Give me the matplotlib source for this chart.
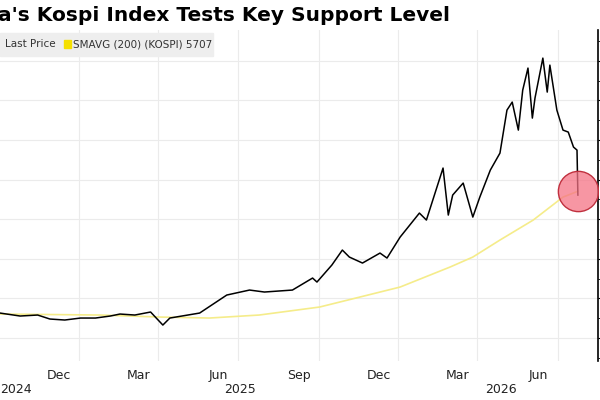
import matplotlib
matplotlib.use("Agg")
import matplotlib.pyplot as plt
import numpy as np
import pandas as pd

# Kospi last price
price_dates = ["2024-09-02", "2024-09-25", "2024-10-15", "2024-10-29", "2024-11-15",
               "2024-12-03", "2024-12-20", "2025-01-06", "2025-01-17", "2025-02-03",
               "2025-02-21", "2025-03-07", "2025-03-15", "2025-04-18", "2025-05-19",
               "2025-06-14", "2025-07-01", "2025-08-02", "2025-08-25", "2025-08-30",
               "2025-09-16", "2025-09-28", "2025-10-06", "2025-10-21", "2025-11-10",
               "2025-11-18", "2025-12-03", "2025-12-25", "2026-01-02", "2026-01-21",
               "2026-01-27", "2026-02-01", "2026-02-13", "2026-02-24", "2026-03-04",
               "2026-03-16", "2026-03-27", "2026-04-04", "2026-04-10", "2026-04-17",
               "2026-04-22", "2026-04-28", "2026-05-03", "2026-05-06", "2026-05-15",
               "2026-05-20", "2026-05-23", "2026-05-31", "2026-06-07", "2026-06-13",
               "2026-06-19", "2026-06-23", "2026-06-24"]
price_values = [2631, 2556, 2581, 2480, 2455, 2505, 2505, 2556, 2606, 2581,
                2657, 2328, 2505, 2631, 3086, 3212, 3162, 3212, 3515, 3414,
                3843, 4222, 4045, 3894, 4146, 4020, 4550, 5156, 4980, 6293,
                5106, 5611, 5914, 5055, 5560, 6242, 6671, 7757, 7959, 7252,
                8262, 8818, 7555, 8060, 9070, 8212, 8893, 7757, 7252, 7202,
                6823, 6747, 5611]

# 200-day simple moving average
sma_dates = ["2024-09-02", "2024-12-25", "2025-03-04", "2025-04-29", "2025-06-25",
             "2025-09-02", "2025-10-18", "2025-12-03", "2026-01-29", "2026-02-24",
             "2026-03-27", "2026-05-04", "2026-06-07", "2026-06-24"]
sma_values = [2606, 2581, 2530, 2505, 2581, 2783, 3035, 3288, 3793, 4045,
              4475, 4980, 5560, 5707]

month_ticks = ["2024-12-01", "2025-03-01", "2025-06-01", "2025-09-01",
               "2025-12-01", "2026-03-01", "2026-06-01"]
month_labels = ["Dec", "Mar", "Jun", "Sep", "Dec", "Mar", "Jun"]

pd_price = pd.to_datetime(price_dates)
pd_sma = pd.to_datetime(sma_dates)
pd_ticks = pd.to_datetime(month_ticks)

fig = plt.figure(figsize=(6, 4), dpi=100)
ax = fig.add_axes([0.0, 0.0975, 0.9967, 0.8275])

ax.plot(pd_sma, sma_values, color="#f5ec8a", lw=1.2, zorder=2)
ax.plot(pd_price, price_values, color="black", lw=1.1, zorder=3)
ax.plot(pd_price[-1:], sma_values[-1:], "o", ms=29, mfc=(0.96, 0.45, 0.52, 0.75),
        mec="#c0303e", mew=1.0, ls="none", zorder=4)

ax.set_xlim(pd.Timestamp("2024-09-02"), pd.Timestamp("2026-07-17"))
ax.set_ylim(1420, 9780)

ax.set_xticks(pd_ticks)
ax.set_xticklabels([])
ax.tick_params(axis="x", length=0)
ax.grid(True, axis="both", color="#ebebeb", lw=0.8)
ax.set_yticks(np.arange(2000, 9001, 1000))
ax.set_yticks(np.arange(1500, 9501, 1000), minor=True)
ax.yaxis.tick_right()
ax.tick_params(axis="y", which="major", direction="out", length=4, labelright=False)
ax.tick_params(axis="y", which="minor", direction="out", length=2)
for s in ["top", "left", "bottom"]:
    ax.spines[s].set_visible(False)
ax.spines["right"].set_linewidth(1.2)

for d, lab in zip(pd_ticks, month_labels):
    ax.annotate(lab, xy=(d, 0), xycoords=("data", "axes fraction"),
                xytext=(-14, -6), textcoords="offset points",
                ha="center", va="top", fontsize=9, color="#222222")

fig.text(0.0, 0.018, "2024", fontsize=9, ha="left", color="#222222")
fig.text(0.40, 0.018, "2025", fontsize=9, ha="center", color="#222222")
fig.text(0.835, 0.018, "2026", fontsize=9, ha="center", color="#222222")

fig.text(-0.004, 0.962, "a's Kospi Index Tests Key Support Level",
         fontsize=14.5, fontweight="bold", ha="left", va="center")

# legend box
fig.patches.append(plt.Rectangle((0, 0.86), 0.355, 0.058, transform=fig.transFigure,
                                 color="#eeeeee", zorder=5))
fig.text(0.008, 0.889, "Last Price", fontsize=7.5, va="center", color="#333333", zorder=6)
fig.patches.append(plt.Rectangle((0.107, 0.879), 0.012, 0.02, transform=fig.transFigure,
                                 color="#f5e000", zorder=6))
fig.text(0.122, 0.889, "SMAVG (200) (KOSPI) 5707", fontsize=7.5, va="center",
         color="#333333", zorder=6)

fig.savefig("out.png", dpi=100)
